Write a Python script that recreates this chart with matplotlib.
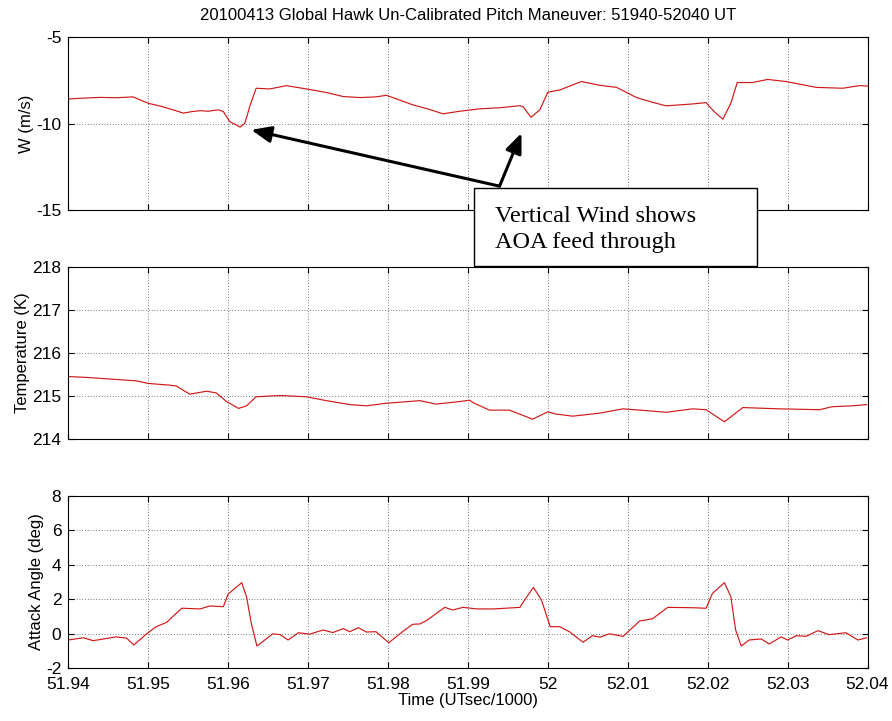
import matplotlib
matplotlib.use("Agg")
import matplotlib.pyplot as plt
from matplotlib.patches import Rectangle

plt.rcParams['font.family'] = ['Liberation Sans', 'DejaVu Sans']

# ---------------- data ----------------
w_time = [51.9400, 51.9420, 51.9440, 51.9460, 51.9481, 51.9500, 51.9515, 51.9531, 51.9544,
          51.9555, 51.9565, 51.9575, 51.9588, 51.9594, 51.9602, 51.9615, 51.9621, 51.9627,
          51.9635, 51.9652, 51.9673, 51.9698, 51.9723, 51.9744, 51.9765, 51.9785, 51.9798,
          51.9806, 51.9831, 51.9850, 51.9869, 51.9890, 51.9915, 51.9940, 51.9965, 51.9969,
          51.9979, 51.9990, 52.0000, 52.0015, 52.0042, 52.0065, 52.0086, 52.0111, 52.0130,
          52.0148, 52.0181, 52.0198, 52.0208, 52.0219, 52.0229, 52.0237, 52.0256, 52.0275,
          52.0298, 52.0336, 52.0369, 52.0390, 52.0400]
w_vals = [-8.57, -8.52, -8.48, -8.50, -8.45, -8.82, -8.98, -9.20, -9.39,
          -9.30, -9.25, -9.28, -9.20, -9.30, -9.88, -10.20, -9.97, -9.01,
          -7.95, -7.99, -7.80, -7.99, -8.20, -8.43, -8.49, -8.45, -8.36,
          -8.49, -8.91, -9.15, -9.43, -9.28, -9.14, -9.08, -8.96, -9.02,
          -9.63, -9.20, -8.18, -8.05, -7.56, -7.78, -7.90, -8.49, -8.75,
          -8.97, -8.86, -8.78, -9.30, -9.74, -8.82, -7.62, -7.62, -7.44,
          -7.56, -7.90, -7.95, -7.80, -7.82]

t_time = [51.9400, 51.9423, 51.9485, 51.9500, 51.9527, 51.9535, 51.9552, 51.9573, 51.9585,
          51.9598, 51.9613, 51.9623, 51.9635, 51.9665, 51.9698, 51.9723, 51.9752, 51.9773,
          51.9798, 51.9840, 51.9860, 51.9890, 51.9902, 51.9908, 51.9927, 51.9952, 51.9981,
          52.0000, 52.0010, 52.0031, 52.0065, 52.0094, 52.0123, 52.0148, 52.0181, 52.0198,
          52.0221, 52.0244, 52.0290, 52.0340, 52.0356, 52.0381, 52.0399]
t_vals = [215.45, 215.43, 215.35, 215.29, 215.25, 215.23, 215.04, 215.11, 215.07,
          214.87, 214.71, 214.77, 214.98, 215.01, 214.98, 214.89, 214.80, 214.77,
          214.83, 214.89, 214.81, 214.87, 214.90, 214.83, 214.67, 214.67, 214.46,
          214.63, 214.58, 214.53, 214.60, 214.70, 214.66, 214.62, 214.70, 214.68,
          214.40, 214.73, 214.70, 214.68, 214.75, 214.77, 214.80]

a_time = [51.9400, 51.9419, 51.9431, 51.9460, 51.9473, 51.9482, 51.9498, 51.9510, 51.9523,
          51.9542, 51.9565, 51.9577, 51.9594, 51.9600, 51.9617, 51.9623, 51.9629, 51.9636,
          51.9656, 51.9665, 51.9675, 51.9688, 51.9702, 51.9719, 51.9731, 51.9744, 51.9752,
          51.9763, 51.9773, 51.9785, 51.9801, 51.9819, 51.9831, 51.9840, 51.9848, 51.9871,
          51.9881, 51.9894, 51.9911, 51.9932, 51.9965, 51.9971, 51.9982, 51.9992, 52.0003,
          52.0015, 52.0027, 52.0044, 52.0056, 52.0065, 52.0077, 52.0094, 52.0115, 52.0131,
          52.0150, 52.0181, 52.0198, 52.0206, 52.0221, 52.0229, 52.0235, 52.0242, 52.0252,
          52.0267, 52.0277, 52.0292, 52.0300, 52.0311, 52.0323, 52.0338, 52.0352, 52.0373,
          52.0388, 52.0399]
a_vals = [-0.36, -0.23, -0.40, -0.18, -0.25, -0.65, 0.00, 0.41, 0.66,
          1.48, 1.44, 1.61, 1.57, 2.30, 2.96, 2.15, 0.60, -0.71,
          0.00, -0.05, -0.36, 0.06, -0.02, 0.22, 0.07, 0.30, 0.12,
          0.35, 0.10, 0.12, -0.52, 0.15, 0.55, 0.57, 0.76, 1.53,
          1.38, 1.53, 1.44, 1.44, 1.53, 1.96, 2.69, 1.96, 0.41,
          0.41, 0.12, -0.49, -0.11, -0.20, 0.00, -0.15, 0.74, 0.87,
          1.53, 1.51, 1.48, 2.34, 2.96, 2.15, 0.22, -0.71, -0.36,
          -0.30, -0.59, -0.18, -0.36, -0.11, -0.15, 0.18, -0.05, 0.06,
          -0.36, -0.23]

x_ticks = [51.94, 51.95, 51.96, 51.97, 51.98, 51.99, 52.00, 52.01, 52.02, 52.03, 52.04]
x_tick_labels = ['51.94', '51.95', '51.96', '51.97', '51.98', '51.99', '52', '52.01',
                 '52.02', '52.03', '52.04']
w_ticks = [-15, -10, -5]
t_ticks = [214, 215, 216, 217, 218]
a_ticks = [-2, 0, 2, 4, 6, 8]

title = "20100413 Global Hawk Un-Calibrated Pitch Maneuver: 51940-52040 UT"
note_lines = ["Vertical Wind shows", "AOA feed through"]

# ---------------- figure ----------------
W, H = 892, 721
fig = plt.figure(figsize=(W / 100, H / 100), dpi=100)

def px_axes(left, top, right, bottom):
    return fig.add_axes([left / W, 1 - bottom / H, (right - left) / W, (bottom - top) / H])

ax1 = px_axes(68.3, 37.3, 867.5, 210.0)
ax2 = px_axes(68.3, 266.7, 867.5, 439.0)
ax3 = px_axes(68.3, 495.7, 867.5, 668.3)

line_color = '#d01818'
panels = [
    (ax1, w_time, w_vals, (-15, -5), w_ticks, 'W (m/s)'),
    (ax2, t_time, t_vals, (214, 218), t_ticks, 'Temperature (K)'),
    (ax3, a_time, a_vals, (-2, 8), a_ticks, 'Attack Angle (deg)'),
]
for ax, xs, ys, ylim, yt, lab in panels:
    ax.plot(xs, ys, color=line_color, lw=0.85)
    ax.set_xlim(51.94, 52.04)
    ax.set_ylim(*ylim)
    ax.set_xticks(x_ticks)
    ax.set_yticks(yt)
    ax.set_yticklabels([str(v) for v in yt])
    ax.grid(True, color='black', linestyle=(0, (1, 3)), linewidth=0.5)
    ax.tick_params(direction='in', length=4, width=0.8, top=True, right=True,
                   labelsize=12.5, pad=5)
    for s in ax.spines.values():
        s.set_linewidth(0.8)
    ax.set_ylabel(lab, fontsize=12, labelpad=1.5)

ax1.set_xticklabels([])
ax2.set_xticklabels([])
ax3.set_xticklabels(x_tick_labels)
ax3.tick_params(axis='x', pad=6)
ax3.set_xlabel('Time (UTsec/1000)', fontsize=12, labelpad=1)

fig.text((68.3 + 867.5) / 2 / W, 1 - 19.5 / H, title, ha='center', va='baseline',
         fontsize=12)

# annotation box
box = Rectangle((474 / W, 1 - 266 / H), (757 - 474) / W, (266 - 188) / H,
                transform=fig.transFigure, facecolor='white', edgecolor='black',
                linewidth=1.0, zorder=10)
fig.patches.append(box)
fig.text(495 / W, 1 - 221.7 / H, note_lines[0], fontsize=17.5,
         family=['Liberation Serif', 'DejaVu Serif'], va='baseline', zorder=11)
fig.text(495 / W, 1 - 248.3 / H, note_lines[1], fontsize=17.5,
         family=['Liberation Serif', 'DejaVu Serif'], va='baseline', zorder=11)

# arrows from the note to the dips
tail = (51.99396, -13.62)
for head in [(51.9629, -10.36), (51.9967, -10.55)]:
    ax1.annotate('', xy=head, xytext=tail, xycoords='data', textcoords='data',
                 arrowprops=dict(arrowstyle='-|>,head_length=0.6,head_width=0.25',
                                 mutation_scale=20, lw=2.2, color='black',
                                 shrinkA=0, shrinkB=0),
                 annotation_clip=False)

fig.savefig('out.png', dpi=100)
